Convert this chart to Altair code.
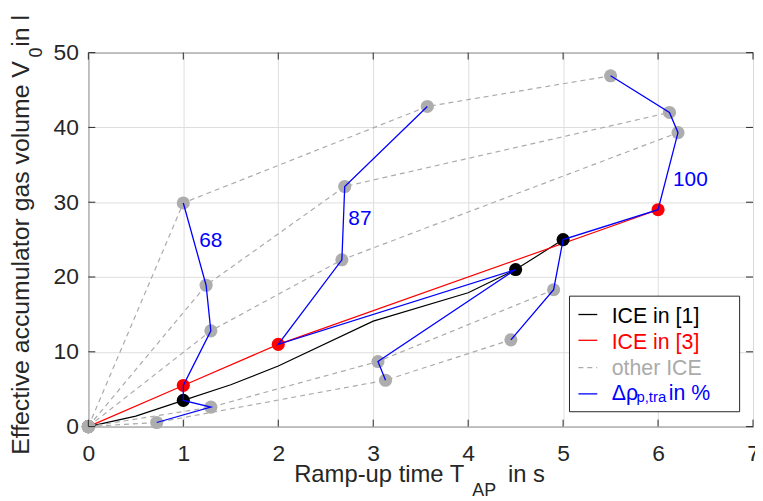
import altair as alt
import pandas as pd

FONT = "Liberation Sans"
TXT = "#262626"
GRAY = "#ababab"
BLUE = "#0000ff"
RED = "#ff0000"

# ---------------- data ----------------
x_ticks = [0, 1, 2, 3, 4, 5, 6, 7]
y_ticks = [0, 10, 20, 30, 40, 50]

# ICE in [1] (black line) and its markers
ice1_x = [0, 0.5, 1.0, 1.5, 2.0, 3.0, 4.0, 4.5, 5.0]
ice1_y = [0, 1.4, 3.5, 5.6, 8.1, 14.1, 17.9, 21.0, 25.0]
ice1_pt_x = [0, 1.0, 4.5, 5.0]
ice1_pt_y = [0, 3.5, 21.0, 25.0]

# ICE in [3] (red line)
ice3_x = [0, 1.0, 2.0, 6.0]
ice3_y = [0, 5.5, 11.0, 29.0]

# other ICE (gray dashed)
other_a_x = [0, 1.00, 3.57, 5.50]
other_a_y = [0, 29.9, 42.8, 46.9]
other_b_x = [0, 1.24, 2.70, 6.12]
other_b_y = [0, 18.9, 32.1, 42.0]
other_c_x = [0, 1.29, 2.67, 6.21]
other_c_y = [0, 12.8, 22.3, 39.3]
other_d_x = [0, 1.29, 3.05, 4.90]
other_d_y = [0, 2.6, 8.7, 18.3]
other_e_x = [0, 0.72, 3.13, 4.45]
other_e_y = [0, 0.55, 6.2, 11.6]

# delta rho_p,tra iso-lines (blue)
rho68_x = [1.00, 1.24, 1.29, 1.00, 1.00, 1.29, 0.72]
rho68_y = [29.9, 18.9, 12.8, 5.5, 3.5, 2.6, 0.55]
rho87_x = [3.57, 2.70, 2.67, 2.00, 4.50, 3.05, 3.13]
rho87_y = [42.8, 32.1, 22.3, 11.0, 21.0, 8.7, 6.2]
rho100_x = [5.50, 6.12, 6.21, 6.00, 5.00, 4.90, 4.45]
rho100_y = [46.9, 42.0, 39.3, 29.0, 25.0, 18.3, 11.6]

rho_labels = ["68", "87", "100"]
rho_label_x = [1.29, 2.86, 6.34]
rho_label_y = [24.8, 27.7, 32.9]

# ---------------- helpers ----------------
PL, PT = 89, 51  # page position of plot origin


def line_df(xs, ys, name):
    return pd.DataFrame({"x": xs, "y": ys, "s": name, "o": list(range(len(xs)))})


xaxis = alt.Axis(values=x_ticks, title=None, grid=True, ticks=False, tickSize=0,
                 domain=False, labelFont=FONT, labelFontSize=23, labelColor=TXT,
                 labelPadding=16, labelFlush=False, labelOverlap=False,
                 gridColor="#dedede", gridWidth=1)
yaxis = alt.Axis(values=y_ticks, title=None, grid=True, ticks=False, tickSize=0,
                 domain=False, labelFont=FONT, labelFontSize=23, labelColor=TXT,
                 labelPadding=10, labelFlush=False, labelOverlap=False,
                 gridColor="#dedede", gridWidth=1)
X = alt.X("x:Q", scale=alt.Scale(domain=[0, 7], nice=False, zero=False), axis=xaxis)
Y = alt.Y("y:Q", scale=alt.Scale(domain=[0, 50], nice=False, zero=False), axis=yaxis)

dummy = pd.DataFrame({"t": [""]})


def txt(s, px, py, size, color, align="left", baseline="alphabetic", angle=None):
    kw = dict(align=align, baseline=baseline, font=FONT, fontSize=size, color=color)
    if angle is not None:
        kw["angle"] = angle
    return alt.Chart(pd.DataFrame({"t": [s]})).mark_text(**kw).encode(
        text="t:N", x=alt.value(px - PL), y=alt.value(py - PT))


layers = []

# black / red lines and markers
layers.append(alt.Chart(line_df(ice1_x, ice1_y, "ice1")).mark_line(
    color="#000000", strokeWidth=1.2).encode(x=X, y=Y, order="o:Q"))
layers.append(alt.Chart(line_df(ice3_x, ice3_y, "ice3")).mark_line(
    color=RED, strokeWidth=1.2).encode(x=X, y=Y, order="o:Q"))
layers.append(alt.Chart(line_df(ice1_pt_x, ice1_pt_y, "p1")).mark_circle(
    size=175, opacity=1, color="#000000").encode(x=X, y=Y))
layers.append(alt.Chart(line_df(ice3_x, ice3_y, "p3")).mark_circle(
    size=175, opacity=1, color=RED).encode(x=X, y=Y))

# other ICE
gray_df = pd.concat([
    line_df(other_a_x, other_a_y, "a"),
    line_df(other_b_x, other_b_y, "b"),
    line_df(other_c_x, other_c_y, "c"),
    line_df(other_d_x, other_d_y, "d"),
    line_df(other_e_x, other_e_y, "e"),
], ignore_index=True)
layers.append(alt.Chart(gray_df).mark_line(
    color=GRAY, strokeWidth=1.2, strokeDash=[5, 4]).encode(
    x=X, y=Y, detail="s:N", order="o:Q"))
layers.append(alt.Chart(gray_df).mark_circle(
    size=175, opacity=1, color="#adadad").encode(x=X, y=Y))

# blue iso-lines
blue_df = pd.concat([
    line_df(rho68_x, rho68_y, "r68"),
    line_df(rho87_x, rho87_y, "r87"),
    line_df(rho100_x, rho100_y, "r100"),
], ignore_index=True)
layers.append(alt.Chart(blue_df).mark_line(
    color=BLUE, strokeWidth=1.3).encode(x=X, y=Y, detail="s:N", order="o:Q"))
layers.append(alt.Chart(pd.DataFrame({"x": rho_label_x, "y": rho_label_y, "t": rho_labels}))
              .mark_text(font=FONT, fontSize=21, color=BLUE, align="center", baseline="middle")
              .encode(x=X, y=Y, text="t:N"))

# inward ticks (box style)
W, H, TL = 670, 377, 7
xt = pd.DataFrame({"x": x_ticks})
yt = pd.DataFrame({"y": y_ticks})
layers.append(alt.Chart(xt).mark_rule(color=TXT, strokeWidth=1).encode(
    x=X, y=alt.value(H), y2=alt.value(H - TL)))
layers.append(alt.Chart(xt).mark_rule(color=TXT, strokeWidth=1).encode(
    x=X, y=alt.value(0), y2=alt.value(TL)))
layers.append(alt.Chart(yt).mark_rule(color=TXT, strokeWidth=1).encode(
    y=Y, x=alt.value(0), x2=alt.value(TL)))
layers.append(alt.Chart(yt).mark_rule(color=TXT, strokeWidth=1).encode(
    y=Y, x=alt.value(W), x2=alt.value(W - TL)))

# legend
layers.append(alt.Chart(dummy).mark_rect(fill="white", stroke=TXT, strokeWidth=1).encode(
    x=alt.value(574 - PL), x2=alt.value(745.5 - PL),
    y=alt.value(296.5 - PT), y2=alt.value(413 - PT)))
leg_rows = [("ICE in [1]", "#000000", None, 315, 323.5),
            ("ICE in [3]", RED, None, 341, 349.5),
            ("other ICE", GRAY, [5, 4], 368.5, 375.5),
            (None, BLUE, None, 395, 401.5)]
for label, col, dash, ly, by in leg_rows:
    kw = dict(color=col, strokeWidth=1.3)
    if dash:
        kw["strokeDash"] = dash
    layers.append(alt.Chart(dummy).mark_rule(**kw).encode(
        x=alt.value(583 - PL), x2=alt.value(602 - PL), y=alt.value(ly - PT)))
    if label:
        layers.append(txt(label, 616.5, by, 21.5, col))
layers.append(txt("Δ", 616.5, 401.5, 21.5, BLUE))
layers.append(txt("ρ", 631, 401.5, 21.5, BLUE))
layers.append(txt("p,tra", 641.5, 403.5, 15, BLUE))
layers.append(txt("in %", 674, 401.5, 21.5, BLUE))

# axis titles (with subscripts)
layers.append(txt("Ramp-up time T", 468, 484, 24, TXT, align="right"))
layers.append(txt("AP", 476, 498, 18, TXT, align="left"))
layers.append(txt("in s", 512, 484, 24, TXT, align="left"))

layers.append(txt("Effective accumulator gas volume V", 29.5, 258, 25, TXT,
                  align="center", angle=270))
layers.append(txt("0", 42.5, 51, 18, TXT, align="center", angle=270))
layers.append(txt("in l", 29.5, 29, 25, TXT, align="center", angle=270))

chart = alt.layer(*layers).properties(
    width=W, height=H,
    autosize=alt.AutoSizeParams(type="none"),
    padding={"left": PL - 8, "top": PT - 8, "right": 2, "bottom": 72},
    background="white",
).configure_view(stroke="#3a3a3a", strokeWidth=1)

chart.save("out.html", embed_options={"renderer": "svg", "actions": False})
